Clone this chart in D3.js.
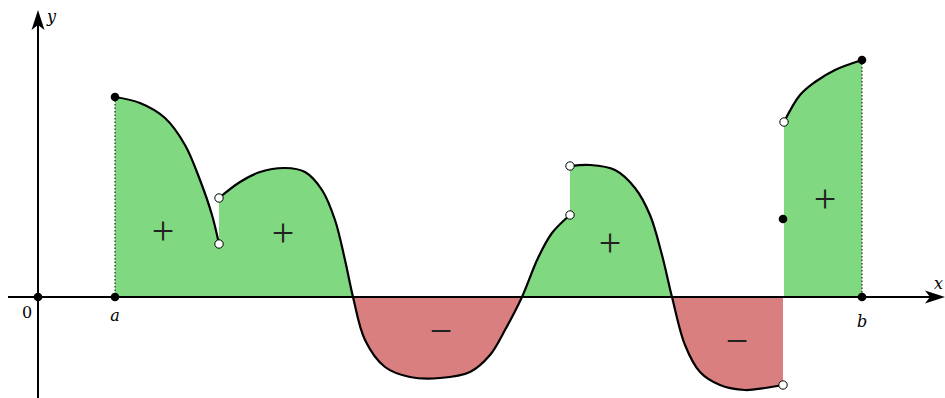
<!DOCTYPE html>
<html>
<head>
<meta charset="utf-8">
<script src="https://cdn.jsdelivr.net/npm/d3@7"></script>
<style>
  body { margin: 0; background: #fff; }
  text { font-family: "DejaVu Serif", "Liberation Serif", serif; }
</style>
</head>
<body>
<div id="chart"></div>
<script>
// pieces of the function, [x, y] in chart units
var piece1 = [[7.7,20.0],[10.2,19.4],[12.7,17.9],[14.7,15.2],[16.2,11.7],[17.4,8.2],[18.1,5.3]];
var piece2 = [[18.1,9.9],[20.2,11.5],[22.2,12.5],[24.7,12.9],[26.7,12.5],[28.4,10.7],[29.7,7.7],[30.7,3.7],
  [31.5,0],[32.7,-4.3],[34.7,-7.0],[37.2,-8.0],[40.2,-8.1],[43.2,-7.5],[45.2,-5.8],[46.7,-3.3],[48.4,0],
  [50.0,3.9],[51.4,6.4],[53.2,8.2]];
var piece3 = [[53.2,13.1],[55.2,13.2],[57.7,12.7],[59.7,10.9],[61.2,8.2],[62.4,4.2],[63.4,0],[64.7,-4.8],
  [66.2,-7.5],[68.2,-8.8],[70.7,-9.3],[72.7,-9.1],[74.5,-8.8]];
var piece4 = [[74.6,17.5],[76.2,20.2],[77.7,21.5],[79.7,22.7],[82.4,23.7]];
var pieces = [piece1, piece2, piece3, piece4];

var closedDots = [[7.7,20.0],[74.5,7.8],[82.4,23.7],[0,0],[7.7,0],[82.4,0]];
var openDots = [[18.1,5.3],[18.1,9.9],[53.2,8.2],[53.2,13.1],[74.5,-8.8],[74.6,17.5]];
var signs = [["+",12.5,6.7],["+",24.5,6.5],["+",57.2,5.5],["+",78.7,9.9],["\u2212",40.3,-3.3],["\u2212",69.9,-4.3]];
var bounds = [[7.7,20.0],[82.4,23.7]];

var width = 945, height = 398;
var x = d3.scaleLinear().domain([0, 90]).range([38, 938]);
var y = d3.scaleLinear().domain([0, 25]).range([297, 47]);

var svg = d3.select("#chart").append("svg")
  .attr("width", width).attr("height", height);

var defs = svg.append("defs");
defs.append("clipPath").attr("id", "above")
  .append("rect").attr("x", 0).attr("y", 0).attr("width", width).attr("height", y(0));
defs.append("clipPath").attr("id", "below")
  .append("rect").attr("x", 0).attr("y", y(0)).attr("width", width).attr("height", height - y(0));

var curve = d3.curveCatmullRom.alpha(0.5);
var area = d3.area()
  .x(function(d) { return x(d[0]); })
  .y0(y(0))
  .y1(function(d) { return y(d[1]); })
  .curve(curve);
var line = d3.line()
  .x(function(d) { return x(d[0]); })
  .y(function(d) { return y(d[1]); })
  .curve(curve);

pieces.forEach(function(p) {
  svg.append("path").datum(p).attr("d", area)
    .attr("fill", "#80d880").attr("clip-path", "url(#above)");
  svg.append("path").datum(p).attr("d", area)
    .attr("fill", "#d97f7f").attr("clip-path", "url(#below)");
});

// dotted bounds at a and b
bounds.forEach(function(d) {
  svg.append("line")
    .attr("x1", x(d[0])).attr("x2", x(d[0]))
    .attr("y1", y(d[1])).attr("y2", y(0))
    .attr("stroke", "#000").attr("stroke-width", 1)
    .attr("stroke-dasharray", "1.5,2");
});

// axes
svg.append("line").attr("x1", 8).attr("x2", 936).attr("y1", y(0)).attr("y2", y(0))
  .attr("stroke", "#000").attr("stroke-width", 2);
svg.append("line").attr("x1", x(0)).attr("x2", x(0)).attr("y1", 398).attr("y2", 18)
  .attr("stroke", "#000").attr("stroke-width", 2);

function arrow(tx, ty, angle) {
  svg.append("path")
    .attr("d", "M0,0 L-20,-6.5 L-15,0 L-20,6.5 Z")
    .attr("transform", "translate(" + tx + "," + ty + ") rotate(" + angle + ")")
    .attr("fill", "#000");
}
arrow(945, y(0), 0);
arrow(x(0), 10, -90);

pieces.forEach(function(p) {
  svg.append("path").datum(p).attr("d", line)
    .attr("fill", "none").attr("stroke", "#000").attr("stroke-width", 2.2);
});

svg.selectAll(".closed").data(closedDots).enter().append("circle")
  .attr("cx", function(d) { return x(d[0]); })
  .attr("cy", function(d) { return y(d[1]); })
  .attr("r", 4.3).attr("fill", "#000");
svg.selectAll(".open").data(openDots).enter().append("circle")
  .attr("cx", function(d) { return x(d[0]); })
  .attr("cy", function(d) { return y(d[1]); })
  .attr("r", 4.2).attr("fill", "#fff").attr("stroke", "#000").attr("stroke-width", 1);

svg.selectAll(".sign").data(signs).enter().append("text")
  .attr("x", function(d) { return x(d[1]); })
  .attr("y", function(d) { return y(d[2]); })
  .attr("text-anchor", "middle").attr("dominant-baseline", "central")
  .attr("font-size", 40).attr("fill", "#222")
  .style("font-family", "'Liberation Serif', serif")
  .text(function(d) { return d[0]; });

// labels
svg.append("text").attr("x", 27).attr("y", 318).attr("font-size", 16)
  .attr("text-anchor", "middle").text("0");
svg.append("text").attr("x", x(7.7)).attr("y", 321).attr("font-size", 16)
  .attr("text-anchor", "middle").attr("font-style", "italic").text("a");
svg.append("text").attr("x", x(82.4)).attr("y", 327).attr("font-size", 16)
  .attr("text-anchor", "middle").attr("font-style", "italic").text("b");
svg.append("text").attr("x", 934).attr("y", 289).attr("font-size", 16)
  .attr("font-style", "italic").text("x");
svg.append("text").attr("x", 47).attr("y", 22).attr("font-size", 16)
  .attr("font-style", "italic").text("y");
</script>
</body>
</html>
